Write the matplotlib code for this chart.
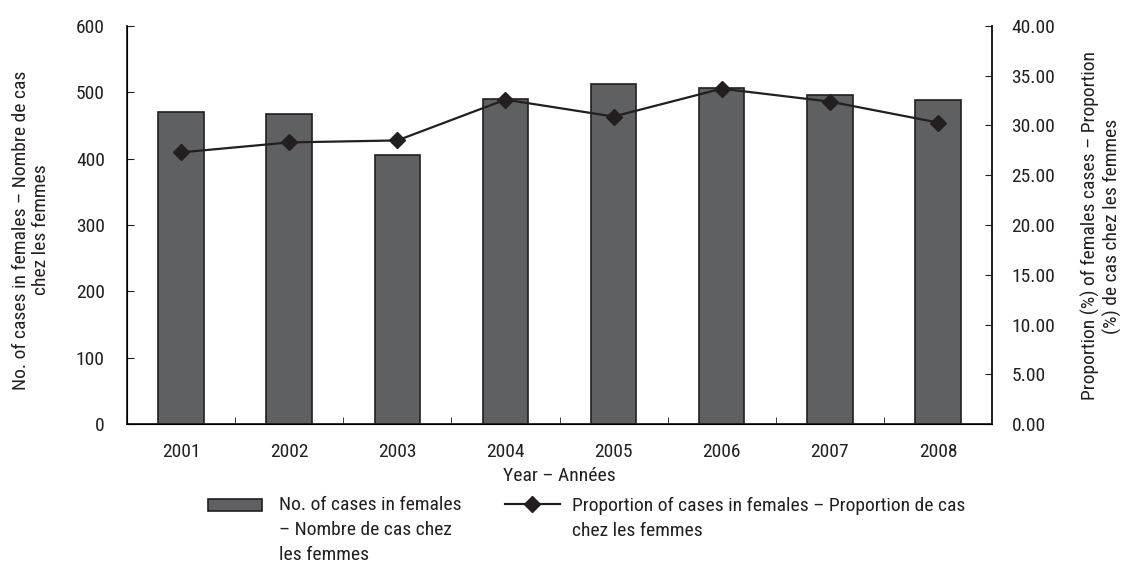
import matplotlib
matplotlib.use("Agg")
import matplotlib.pyplot as plt
from matplotlib.patches import Rectangle
from matplotlib.lines import Line2D
import numpy as np

plt.rcParams['font.family'] = ['Roboto Condensed', 'Roboto', 'DejaVu Sans']

years = ['2001', '2002', '2003', '2004', '2005', '2006', '2007', '2008']
cases = [471, 468, 405, 490, 513, 507, 496, 489]
proportion = [27.3, 28.3, 28.5, 32.6, 30.9, 33.7, 32.4, 30.3]

bar_color = '#5f6062'
ink = '#231f20'
fs = 14

W, H = 1126, 565
fig = plt.figure(figsize=(W / 100, H / 100), dpi=100)


def fx(px):
    return px / W


def fy(py):
    return 1 - py / H


ax = fig.add_axes([fx(127), fy(424), (992 - 127) / W, (424 - 26) / H])
x = np.arange(len(years))
ax.bar(x, cases, width=0.42, color=bar_color, edgecolor=ink, linewidth=1.2, zorder=2)
ax.set_xlim(-0.5, len(years) - 0.5)
ax.set_ylim(0, 600)
ax.set_yticks(range(0, 601, 100))
ax.set_xticks(x)
ax.set_xticklabels(years)
ax.set_xticks(np.arange(-0.5, len(years)), minor=True)
ax.tick_params(axis='x', which='major', length=0, pad=14, labelsize=fs, colors=ink)
ax.tick_params(axis='x', which='minor', length=5, direction='in', color=ink)
ax.tick_params(axis='y', direction='in', length=5, pad=16, labelsize=fs, colors=ink)
ax.spines['top'].set_visible(False)
for s in ['left', 'bottom', 'right']:
    ax.spines[s].set_color(ink)
    ax.spines[s].set_linewidth(1.3)

ax2 = ax.twinx()
ax2.plot(x, proportion, color=ink, linewidth=1.6, marker='D', markersize=8,
         markerfacecolor=ink, markeredgecolor=ink, zorder=3)
ax2.set_ylim(0, 40)
ticks2 = np.arange(0, 40.1, 5)
ax2.set_yticks(ticks2)
ax2.set_yticklabels([f'{v:.2f}' for v in ticks2])
ax2.tick_params(axis='y', direction='in', length=5, pad=14, labelsize=fs, colors=ink)
ax2.spines['top'].set_visible(False)
ax2.spines['right'].set_color(ink)
ax2.spines['right'].set_linewidth(1.3)

# axis titles
fig.text(fx(559), fy(476), 'Year – Années', fontsize=fs, color=ink,
         ha='center', va='center')
fig.text(fx(31), fy(230), 'No. of cases in females – Nombre de cas\nchez les femmes',
         fontsize=fs, color=ink, rotation=90, ha='center', va='center',
         multialignment='center', linespacing=1.2)
fig.text(fx(1101), fy(226), 'Proportion (%) of females cases – Proportion\n(%) de cas chez les femmes',
         fontsize=fs, color=ink, rotation=90, ha='center', va='center',
         multialignment='center', linespacing=1.2)

# legend
fig.add_artist(Rectangle((fx(208), fy(511)), (262 - 208) / W, 12 / H,
                         facecolor=bar_color, edgecolor=ink, linewidth=1.2,
                         transform=fig.transFigure))
for i, line in enumerate(['No. of cases in females', '– Nombre de cas chez', 'les femmes']):
    fig.text(fx(279), fy(505 + 25 * i), line, fontsize=fs, color=ink,
             ha='left', va='center')
fig.add_artist(Line2D([fx(505), fx(560)], [fy(504), fy(504)], color=ink, linewidth=1.6,
                      transform=fig.transFigure))
fig.add_artist(Line2D([fx(532)], [fy(504)], color=ink, marker='D', markersize=8,
                      markerfacecolor=ink, markeredgecolor=ink,
                      transform=fig.transFigure))
for i, line in enumerate(['Proportion of cases in females – Proportion de cas',
                          'chez les femmes']):
    fig.text(fx(572), fy(506 + 25 * i), line, fontsize=fs, color=ink,
             ha='left', va='center')

fig.savefig('out.png', dpi=100)
